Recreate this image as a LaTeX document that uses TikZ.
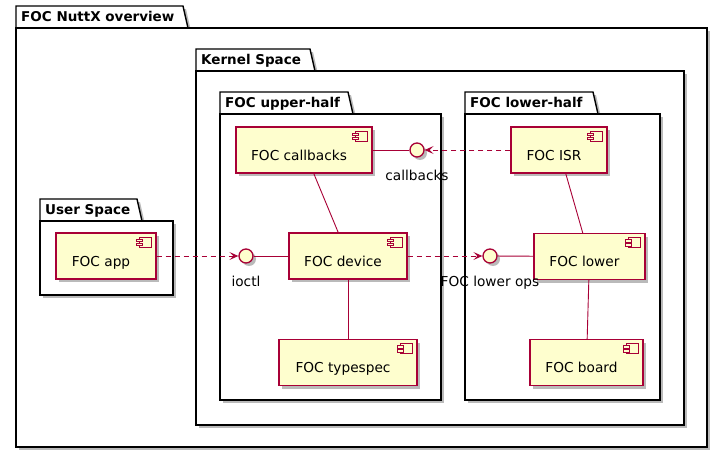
\documentclass[tikz,border=0pt]{standalone}
\usepackage{fontspec}
\setmainfont{DejaVu Sans}
\usetikzlibrary{
    arrows.meta,
    shadows,
    positioning
}
\definecolor{uml yellow}{HTML}{FEFECE}
\definecolor{uml red}{HTML}{A80036}
\tikzset{
    % Colors
    box color/.style={draw=uml red,fill=uml yellow},
    nice shadow/.style={drop shadow={shadow xshift=3pt,shadow yshift=-3pt,fill=black!45,opacity=.6}},
    %
    % Packages
    package/.style={draw=black,fill=white,line width=1.4pt,nice shadow},
    package title/.style={anchor=base west,inner sep=0pt,font=\fontsize{13.5pt}{16pt}\selectfont\bfseries},
    %
    % Components and interfaces
    component/.style={rectangle,box color,line width=1.3pt,nice shadow,minimum width=#1,minimum height=46pt,
        text height=24pt,text depth=4pt,execute at begin node={\hspace*{-10pt}}},
    component/.default=110pt,
    iface/.style={circle,box color,line width=1.3pt,nice shadow,minimum size=14pt,inner sep=0pt},
    iface label/.style={label={[label distance=8.5pt]below:#1}},
    %
    % Arrows
    arrow tip/.tip={Stealth[length=9pt,width=8pt,inset=4pt]},
    link/.style={draw=uml red,line width=.9pt},
    dep/.style={link,-{arrow tip},dash pattern=on 5pt off 4pt}
}
\tikzstyle{every node}=[font=\fontsize{13.7pt}{16pt}\selectfont]

\begin{document}
\begin{tikzpicture}[x=1pt,y=-1pt]
    \useasboundingbox (0,0) rectangle (724,455);
    % packages, outer ones first
    \foreach \px/\pt/\ptab/\pr/\pb/\ptitle [count=\i] in {
            16/6/183/707/447/FOC NuttX overview,
            196/49/310/684/425/Kernel Space,
            220/92/348/441/400/FOC upper-half,
            465/92/593/660/400/FOC lower-half,
            40/199/137/173/295/User Space}
    {
        \draw[package] (\px,\pt+22) -- (\px,\pt) -- (\ptab,\pt) -- (\ptab+5,\pt+22) -- cycle;
        \draw[package] (\px,\pt+22) rectangle (\pr,\pb);
        \node[package title] (title-\i) at (\px+5,\pt+15.5) {\ptitle};
    }
    % components
    \node[component=136pt] (callbacks) at (304,150) {FOC callbacks};
    \node[component=118pt] (device) at (348,256) {FOC device};
    \node[component=138pt] (typespec) at (348,362.5) {FOC typespec};
    \node[component=96pt] (isr) at (559,150) {FOC ISR};
    \node[component=111pt] (lower) at (589.5,256.5) {FOC lower};
    \node[component=113pt] (board) at (586.5,362.5) {FOC board};
    \node[component=100pt] (app) at (106,256) {FOC app};
    % component icons
    \foreach \c in {callbacks,device,typespec,isr,lower,board,app}
    {
        \draw[box color,line width=1pt] ([shift={(-17,5)}]\c.north east) rectangle ([shift={(-5,15)}]\c.north east);
        \draw[box color,line width=1pt] ([shift={(-20,7)}]\c.north east) rectangle ([shift={(-14,9.5)}]\c.north east);
        \draw[box color,line width=1pt] ([shift={(-20,11)}]\c.north east) rectangle ([shift={(-14,13.5)}]\c.north east);
    }
    % interfaces
    \node[iface,iface label=callbacks] (cb if) at (417,150) {};
    \node[iface,iface label=ioctl] (ioctl) at (246,256) {};
    \node[iface,iface label=FOC lower ops] (ops if) at (490,256) {};
    % links
    \draw[link] (callbacks) -- (cb if);
    \draw[link] (callbacks) -- (device);
    \draw[link] (ioctl) -- (device);
    \draw[link] (device) -- (typespec);
    \draw[link] (ops if) -- (lower);
    \draw[link] (isr) -- (lower);
    \draw[link] (lower) -- (board);
    \draw[dep] (app) -- (ioctl);
    \draw[dep] (device) -- (ops if);
    \draw[dep] (isr) -- (cb if);
\end{tikzpicture}
\end{document}
